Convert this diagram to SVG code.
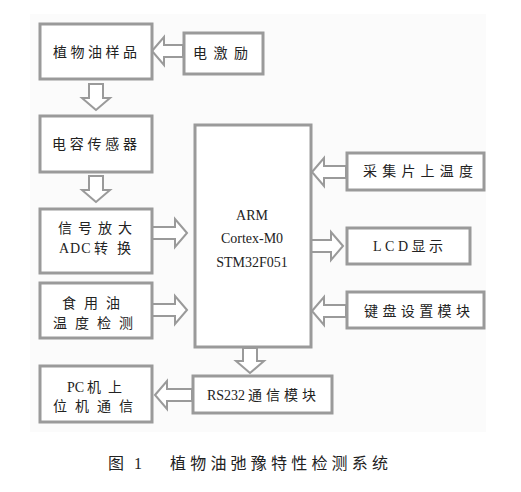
<svg xmlns="http://www.w3.org/2000/svg" width="521" height="492" viewBox="0 0 521 492">
<style>
.box{fill:#fff;stroke:#9a9a9a;stroke-width:3}
.arr{fill:#fff;stroke:#9a9a9a;stroke-width:2;stroke-linejoin:miter}
.t{font-family:"Liberation Serif","Noto Sans CJK SC",serif;font-size:14px;fill:#222}
.cap{font-family:"Liberation Serif","Noto Sans CJK SC",serif;font-size:16px;fill:#222}
</style>
<rect x="0" y="0" width="521" height="492" fill="#fff"/>
<rect x="30" y="14" width="456" height="418" fill="#fbfbfb"/>
<g id="connectors">
<polygon class="arr" points="152,51 164,37 164,45 183,45 183,57 164,57 164,65"/>
<polygon class="arr" points="96,110 82,98 89,98 89,84 103,84 103,98 110,98"/>
<polygon class="arr" points="96,202 82,190 89,190 89,176 103,176 103,190 110,190"/>
<polygon class="arr" points="187,233 175,219 175,227 152,227 152,239 175,239 175,247"/>
<polygon class="arr" points="187,310 175,296 175,304 152,304 152,316 175,316 175,324"/>
<polygon class="arr" points="312,172 324,158 324,166 346,166 346,178 324,178 324,186"/>
<polygon class="arr" points="343,246 331,232 331,240 311,240 311,252 331,252 331,260"/>
<polygon class="arr" points="312,311 324,297 324,305 346,305 346,317 324,317 324,325"/>
<polygon class="arr" points="250,373 236,361 243,361 243,348 257,348 257,361 264,361"/>
<polygon class="arr" points="155,395 167,381 167,389 192,389 192,401 167,401 167,409"/>
</g>
<g id="sample"><rect class="box" x="40" y="24" width="112" height="55"/><text class="t" x="53" y="57" textLength="84" lengthAdjust="spacing">植物油样品</text></g>
<g id="excite"><rect class="box" x="184" y="33" width="79" height="41"/><text class="t" x="193" y="58" textLength="55" lengthAdjust="spacing">电激励</text></g>
<g id="sensor"><rect class="box" x="40" y="116" width="112" height="56"/><text class="t" x="52" y="149" textLength="85" lengthAdjust="spacing">电容传感器</text></g>
<g id="amp"><rect class="box" x="40" y="209" width="112" height="64"/><text class="t" x="58" y="233" textLength="74" lengthAdjust="spacing">信号放大</text><text class="t" y="253"><tspan x="59" letter-spacing="1">ADC</tspan><tspan x="94">转</tspan><tspan x="117">换</tspan></text></g>
<g id="oiltemp"><rect class="box" x="40" y="283" width="112" height="55"/><text class="t" x="62" y="308" textLength="58" lengthAdjust="spacing">食用油</text><text class="t" x="53" y="328" textLength="80" lengthAdjust="spacing">温度检测</text></g>
<g id="pc"><rect class="box" x="40" y="366" width="112" height="56"/><text class="t" y="392"><tspan x="67">PC</tspan><tspan x="87">机</tspan><tspan x="108">上</tspan></text><text class="t" x="53" y="411" textLength="80" lengthAdjust="spacing">位机通信</text></g>
<g id="mcu"><rect class="box" x="195" y="125" width="116" height="222"/><text class="t" x="252" y="220" text-anchor="middle">ARM</text><text class="t" x="252" y="243" text-anchor="middle">Cortex-M0</text><text class="t" x="252" y="267" text-anchor="middle">STM32F051</text></g>
<g id="chiptemp"><rect class="box" x="347" y="153" width="137" height="37"/><text class="t" x="363" y="176" textLength="110" lengthAdjust="spacing">采集片上温度</text></g>
<g id="lcd"><rect class="box" x="347" y="228" width="123" height="36"/><text class="t" x="373" y="251" textLength="70" lengthAdjust="spacing">LCD显示</text></g>
<g id="keys"><rect class="box" x="347" y="292" width="137" height="36"/><text class="t" x="364" y="316" textLength="106" lengthAdjust="spacing">键盘设置模块</text></g>
<g id="rs232"><rect class="box" x="193" y="376" width="139" height="37"/><text class="t" y="400"><tspan x="207">RS232</tspan><tspan x="248">通</tspan><tspan x="266">信</tspan><tspan x="284">模</tspan><tspan x="302">块</tspan></text></g>
<text class="cap" y="469"><tspan x="108">图</tspan><tspan x="134">1</tspan></text>
<text class="cap" x="170" y="469" textLength="218" lengthAdjust="spacing">植物油弛豫特性检测系统</text>
</svg>
